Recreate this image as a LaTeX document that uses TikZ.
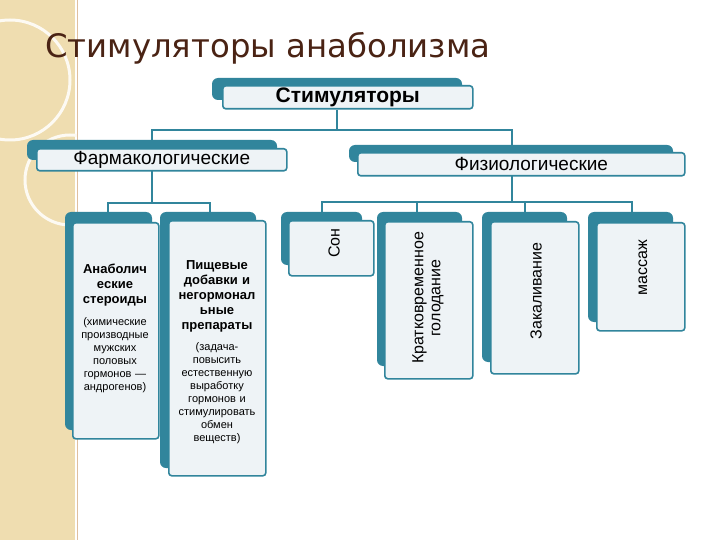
\documentclass[tikz,border=0pt]{standalone}
\usepackage{fontspec}
\setmainfont{Liberation Sans}
\newfontfamily\titlefont{DejaVu Sans}
\definecolor{teal1}{HTML}{31859C}
\definecolor{front}{HTML}{EEF3F6}
\definecolor{beige}{HTML}{EFDDB0}
\definecolor{titlec}{HTML}{4A2314}
\tikzset{
  back/.style={fill=teal1,rounded corners=6pt},
  frontbox/.style={draw=teal1,line width=1.6pt,fill=front,rounded corners=3pt},
  conn/.style={draw=teal1,line width=1.5pt},
  vtext/.style={rotate=90,align=center,font=\fontsize{16}{17}\selectfont},
  btext/.style={align=center,font=\fontsize{13}{15}\selectfont\bfseries,text width=100pt},
  stext/.style={align=center,font=\fontsize{11}{13}\selectfont,text width=100pt},
}
\begin{document}
\begin{tikzpicture}[x=1pt,y=-1pt]
\useasboundingbox (0,0) rectangle (720,540);
\fill[beige] (0,0) rectangle (75,540);
\draw[white!85!beige,line width=3pt] (10,80) circle (60);
\draw[white!85!beige,line width=3pt] (70,180) circle (45);
\draw[brown!50,line width=1pt] (77,0) -- (77,540);
\fill[white] (78,0) rectangle (720,540);
\node[anchor=west,text=titlec,inner sep=0] (title) at (45,48) {\resizebox{445pt}{!}{\titlefont Стимуляторы анаболизма}};
% Stimulyatory
\fill[back] (212,78) rectangle (462,100);
\node[frontbox,minimum width=250pt,minimum height=23pt,anchor=north west,inner sep=1pt,font=\fontsize{21}{22}\selectfont\bfseries] (stim) at (222,85) {Стимуляторы};
% Farm
\fill[back] (27,140) rectangle (277,160);
\node[frontbox,minimum width=250pt,minimum height=22pt,anchor=north west,inner sep=1pt,font=\fontsize{19}{20}\selectfont] (farm) at (36,148) {Фармакологические};
% Fiziol
\fill[back] (349,145) rectangle (673,162);
\node[frontbox,minimum width=327pt,minimum height=23pt,anchor=north west,inner sep=1pt,font=\fontsize{19}{20}\selectfont] (fiz) at (357,152) {\hspace*{20pt}Физиологические};
% left boxes
\fill[back] (65,212) rectangle (152,430);
\node[frontbox,minimum width=86pt,minimum height=216pt,anchor=north west] (anab) at (72,222) {};
\fill[back] (160,212) rectangle (256,468);
\node[frontbox,minimum width=97pt,minimum height=255pt,anchor=north west] (pish) at (168,220) {};
\node[btext,anchor=north] (anabt) at (115,260) {Анаболич\\еские\\стероиды};
\node[stext,anchor=north] (anabs) at (115,314) {(химические\\производные\\мужских\\половых\\гормонов —\\андрогенов)};
\node[btext,anchor=north] (pisht) at (217,257) {Пищевые\\добавки и\\негормонал\\ьные\\препараты};
\node[stext,anchor=north] (pishs) at (217,339) {(задача-\\повысить\\естественную\\выработку\\гормонов и\\стимулировать\\обмен\\веществ)};
% right boxes
\fill[back] (281,212) rectangle (362,265);
\node[frontbox,minimum width=85pt,minimum height=55pt,anchor=north west] (son) at (288,220) {};
\node[vtext] (sont) at (334,243) {Сон};
\fill[back] (377,212) rectangle (462,366);
\node[frontbox,minimum width=88pt,minimum height=157pt,anchor=north west] (krat) at (384,221) {};
\node[vtext] (kratt) at (428,298) {Кратковременное\\голодание};
\fill[back] (482,212) rectangle (567,362);
\node[frontbox,minimum width=88pt,minimum height=152pt,anchor=north west] (zak) at (490,221) {};
\node[vtext] (zakt) at (536,291) {Закаливание};
\fill[back] (588,212) rectangle (673,322);
\node[frontbox,minimum width=88pt,minimum height=108pt,anchor=north west] (mas) at (596,222) {};
\node[vtext] (mast) at (643,268) {массаж};
% connectors
\coordinate (j1) at (337,130);
\draw[conn] (stim.south -| j1) -- (j1);
\draw[conn] (152,140) -- (152,130) -- (512,130) -- (512,145);
\draw[conn] (152,170) -- (152,203);
\draw[conn] (108,212) -- (108,203) -- (210,203) -- (210,212);
\draw[conn] (512,176) -- (512,202);
\draw[conn] (322,212) -- (322,202) -- (632,202) -- (632,212);
\draw[conn] (417,202) -- (417,212);
\draw[conn] (525,202) -- (525,212);
\end{tikzpicture}
\end{document}
